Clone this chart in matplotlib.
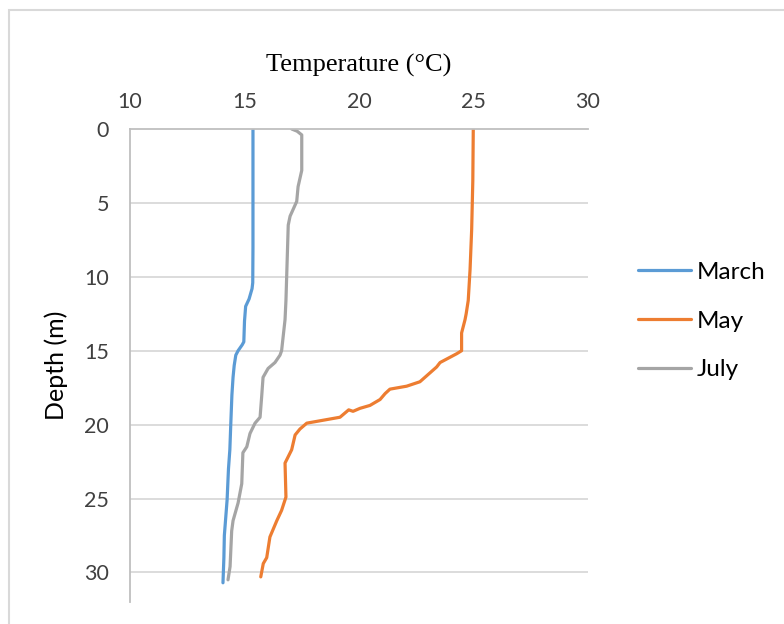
import numpy as np
import matplotlib.pyplot as plt
from matplotlib.patches import Rectangle

# depth profiles (depth in m, temperature in degC)
march_depth = [0, 2, 5, 8, 10.4, 10.8, 11.5, 12.0, 13.0, 14.4, 14.6, 15.0, 15.3,
               16.0, 16.8, 18.0, 20.0, 21.7, 23.0, 25.1, 26.9, 27.5, 29.0, 30.7]
march_temp = [15.37, 15.37, 15.37, 15.37, 15.36, 15.33, 15.2, 15.05, 15.0, 14.97,
              14.9, 14.72, 14.62, 14.55, 14.5, 14.45, 14.4, 14.36, 14.3, 14.24,
              14.15, 14.12, 14.1, 14.06]

may_depth = [0, 3.5, 6.8, 9.5, 11.6, 12.5, 12.9, 13.8, 15.0, 15.2, 15.8, 16.1,
             17.1, 17.4, 17.6, 17.9, 18.3, 18.7, 18.9, 19.1, 19.0, 19.5, 19.9,
             20.3, 20.7, 21.7, 22.6, 24.9, 25.8, 26.5, 27.6, 29.0, 29.4, 30.3]
may_temp = [24.99, 24.97, 24.92, 24.85, 24.77, 24.68, 24.63, 24.48, 24.48, 24.27,
            23.54, 23.39, 22.66, 22.08, 21.35, 21.14, 20.92, 20.48, 20.04, 19.74,
            19.55, 19.17, 17.72, 17.42, 17.21, 17.06, 16.77, 16.81, 16.62, 16.41,
            16.11, 15.97, 15.82, 15.71]

july_depth = [0, 0.15, 0.4, 2.8, 3.9, 4.9, 5.9, 6.5, 11.6, 12.9, 15.0, 15.3,
              15.8, 16.2, 16.8, 18.1, 19.5, 19.9, 20.6, 21.5, 21.9, 24.0, 25.3,
              26.5, 27.2, 29.6, 30.5]
july_temp = [17.06, 17.3, 17.5, 17.5, 17.34, 17.28, 16.99, 16.91, 16.81, 16.77,
             16.62, 16.55, 16.33, 16.03, 15.81, 15.75, 15.68, 15.46, 15.24, 15.1,
             14.93, 14.88, 14.72, 14.5, 14.44, 14.37, 14.28]

xticks = [10, 15, 20, 25, 30]
yticks = [0, 5, 10, 15, 20, 25, 30]

sans = ['Lato', 'DejaVu Sans']
serif = ['Liberation Serif', 'DejaVu Serif']

fig = plt.figure(figsize=(7.84, 6.24), dpi=100)
ax = fig.add_axes([130 / 784, 1 - 602 / 624, 458 / 784, 473 / 624])

# outer chart frame
fig.add_artist(Rectangle((9 / 784, -0.1), 1.2, 1 - 10 / 624 + 0.1,
                         transform=fig.transFigure, fill=False,
                         edgecolor='#d9d9d9', lw=1.5))

ax.plot(march_temp, march_depth, color='#5b9bd5', lw=2.3, label='March',
        solid_capstyle='round')
ax.plot(may_temp, may_depth, color='#ed7d31', lw=2.3, label='May',
        solid_capstyle='round')
ax.plot(july_temp, july_depth, color='#a5a5a5', lw=2.3, label='July',
        solid_capstyle='round')

ax.set_xlim(10, 30)
ax.set_ylim(32, 0)
ax.set_xticks(xticks)
ax.set_yticks(yticks)
ax.xaxis.tick_top()
ax.xaxis.set_label_position('top')
ax.tick_params(length=0, labelsize=15.5, labelcolor='#404040')
ax.tick_params(axis='x', pad=12)
ax.tick_params(axis='y', pad=15)
for lab in ax.get_xticklabels() + ax.get_yticklabels():
    lab.set_family(sans)

for d in yticks[1:]:
    ax.axhline(d, color='#d9d9d9', lw=1.3, zorder=0)

for s in ['right', 'bottom']:
    ax.spines[s].set_visible(False)
for s in ['left', 'top']:
    ax.spines[s].set_color('#bfbfbf')
    ax.spines[s].set_linewidth(1.3)

ax.set_xlabel('Temperature (°C)', family=serif, fontsize=19, labelpad=15)
ax.set_ylabel('Depth (m)', family=sans, fontsize=18, labelpad=12)

ax.legend(loc='center left', bbox_to_anchor=(638 / 784, 1 - 321 / 624),
          bbox_transform=fig.transFigure, frameon=False,
          prop={'family': sans, 'size': 17.5}, handlelength=2.2,
          handletextpad=0.2, labelspacing=1.15, borderpad=0, borderaxespad=0)

fig.savefig('out.png', dpi=100)
